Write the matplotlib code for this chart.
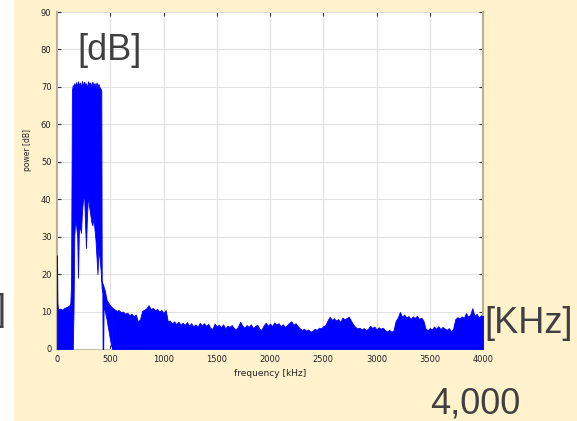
import numpy as np
import matplotlib
matplotlib.use('Agg')
import matplotlib.pyplot as plt
from matplotlib.patches import Rectangle

# spectrum: band region (0-520 kHz) has a top and a bottom envelope
band_khz = [0, 4, 10, 30, 50, 70, 90, 110, 125, 132,
            140, 148, 155, 162, 170, 180, 190, 197, 205, 215,
            225, 235, 245, 255, 264, 272, 282, 292, 302, 312,
            322, 332, 342, 352, 362, 372, 380, 390, 400, 410,
            416, 420, 426, 428, 434, 438, 450, 465, 480, 495,
            510, 520]
band_top = [25.0, 12.5, 10.5, 10.8, 10.5, 11.0, 11.2, 11.5, 12.0, 17.5,
            69.0, 70.5, 69.8, 71.0, 70.2, 71.3, 70.0, 71.5, 70.4, 71.2,
            69.9, 71.6, 70.3, 71.4, 70.5, 71.0, 69.8, 71.5, 70.6, 71.2,
            70.0, 71.4, 70.3, 71.0, 70.4, 71.2, 70.0, 70.8, 69.8, 69.5,
            69.0, 18.0, 17.6, 17.5, 17.0, 16.6, 15.5, 13.2, 12.4, 11.8,
            11.3, 11.0]
band_bottom = [0, 0, 0, 0, 0, 0, 0, 0, 0, 0,
               0, 0, 10, 30, 34, 33, 30, 19, 31, 33,
               31, 37, 40, 41, 33, 27, 36, 41, 38, 36,
               34, 33, 35, 32, 29, 24, 20, 27, 24, 21,
               18, 16, 15, 0, 0, 12, 10, 8, 5.5, 3,
               0.8, 0]

# noise floor 520-4000 kHz, 20 kHz steps
floor_khz = np.arange(520, 4001, 20)
floor_top = [11.0, 10.6, 10.2, 10.4, 9.8, 10.0, 9.4, 9.7, 9.0, 9.4,
             8.8, 9.2, 7.3, 8.0, 10.2, 10.5, 10.9, 11.7, 10.6, 11.0,
             10.3, 10.7, 10.0, 10.4, 9.6, 10.4, 7.4, 7.6, 6.8, 7.4,
             6.6, 7.3, 6.5, 7.0, 6.4, 7.2, 6.2, 6.9, 6.0, 6.6,
             5.9, 7.0, 6.3, 6.9, 6.2, 6.7, 5.6, 5.4, 6.8, 6.0,
             6.5, 5.8, 6.6, 5.5, 6.2, 5.9, 6.4, 5.6, 5.2, 6.0,
             7.3, 6.2, 5.7, 6.4, 5.9, 6.6, 5.6, 6.1, 6.5, 5.4,
             5.1, 6.3, 7.0, 6.2, 6.8, 6.1, 7.1, 6.5, 6.9, 6.1,
             6.6, 5.9, 6.4, 7.0, 7.4, 6.5, 6.9, 6.1, 5.5, 5.1,
             5.4, 4.9, 5.2, 4.6, 4.9, 5.4, 5.1, 5.7, 5.5, 6.1,
             6.4, 7.6, 8.6, 7.8, 8.2, 7.6, 8.0, 7.2, 8.4, 7.9,
             8.3, 8.6, 7.6, 6.6, 5.9, 5.5, 5.7, 5.2, 5.6, 5.0,
             5.4, 6.2, 5.6, 6.0, 5.2, 5.8, 5.4, 5.7, 5.0, 4.7,
             5.1, 4.6, 5.0, 7.5, 8.4, 9.9, 8.6, 9.2, 8.4, 8.8,
             8.0, 8.7, 8.3, 8.9, 8.0, 8.4, 7.6, 5.5, 5.0, 5.6,
             5.2, 6.0, 5.4, 6.1, 5.3, 5.9, 5.5, 5.1, 5.6, 4.7,
             5.5, 8.0, 8.5, 8.2, 8.7, 8.3, 9.6, 8.6, 9.2, 10.9,
             8.8, 9.4, 8.4, 9.0, 8.8]

x_ticks = [0, 500, 1000, 1500, 2000, 2500, 3000, 3500, 4000]
y_ticks = [0, 10, 20, 30, 40, 50, 60, 70, 80, 90]

W, H = 577, 421
fig = plt.figure(figsize=(W / 100, H / 100), dpi=100, facecolor='white')
# beige slide panel, behind the axes
fig.patches.append(Rectangle((14 / W, 0), 1, 1, transform=fig.transFigure,
                             facecolor='#FFF2CC', edgecolor='none', zorder=-10))

ax = fig.add_axes([57 / W, (H - 349) / H, 426 / W, 337 / H], zorder=1)
ax.set_facecolor('white')

blue = '#0000FF'
ax.fill_between(band_khz, band_bottom, band_top, color=blue, lw=0.6, zorder=3)
ax.fill_between(floor_khz, 0, floor_top, color=blue, lw=0.6, zorder=3)

ax.set_xlim(0, 4000)
ax.set_ylim(0, 90)
ax.set_xticks(x_ticks)
ax.set_yticks(y_ticks)
ax.tick_params(direction='in', length=3, width=0.8, color='#333333',
               labelsize=6, labelcolor='#222222', top=True, right=True, pad=4)
ax.grid(True, color='#e0e0e0', lw=0.8)
ax.set_axisbelow(True)

for side in ['left', 'right']:
    ax.spines[side].set_color('#b8b092')
    ax.spines[side].set_linewidth(1.5)
ax.spines['top'].set_visible(False)
ax.spines['bottom'].set_color('#c8c2aa')

ax.set_xlabel('frequency [kHz]', fontsize=6.5, color='#222222', labelpad=4)
ax.set_ylabel('power [dB]', fontsize=5.5, color='#222222')
ax.yaxis.set_label_coords(-0.058, 0.59)

# overlaid slide annotations
txt = dict(family='Liberation Sans', fontsize=26, color='#404040', zorder=5)
fig.text(77 / W, 1 - 60 / H, '[dB]', **txt)
fig.text(484 / W, 1 - 333 / H, '[KHz]', **txt)
fig.text(430 / W, 1 - 414 / H, '4,000', **txt)
fig.text(6 / W, 1 - 320 / H, ']', ha='right', **txt)

fig.savefig('out.png', dpi=100)
